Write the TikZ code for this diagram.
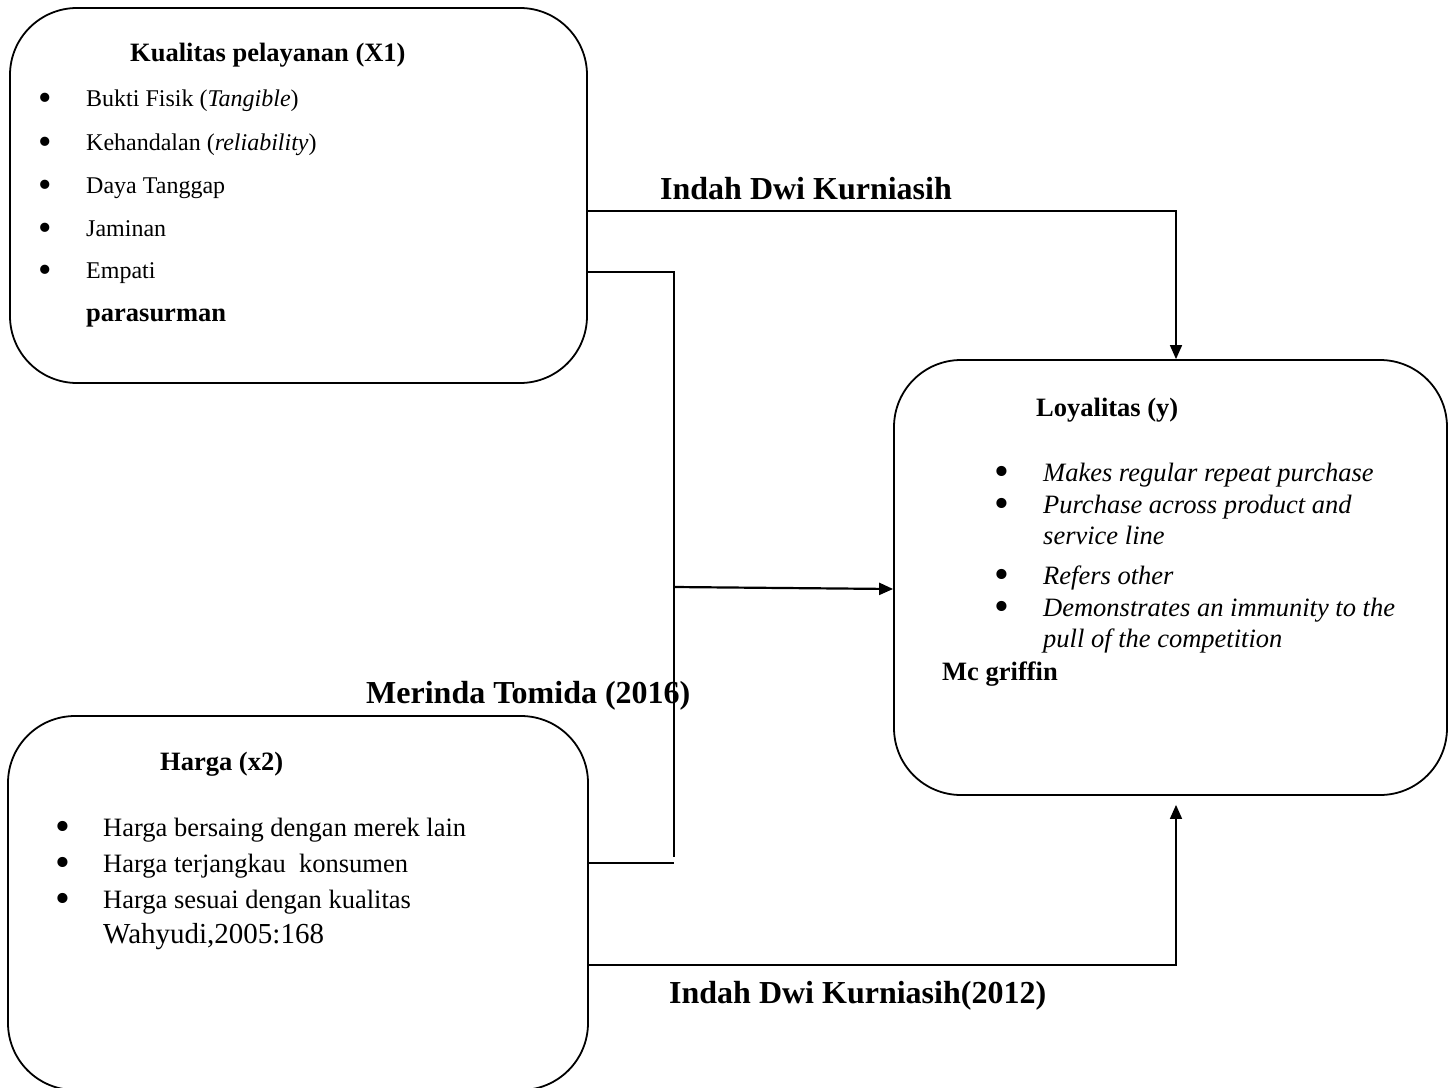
\documentclass[tikz,border=0pt]{standalone}
\usepackage{fontspec}
\setmainfont{Liberation Serif}
\usetikzlibrary{arrows.meta}
\newcommand{\bul}{\smash{\raisebox{-0.17em}{\scalebox{1.6}{\textbullet}}}}

\begin{document}
\begin{tikzpicture}[
                x = 1pt, y = -1pt,
                box/.style = {draw, line width = 1.8pt, rounded corners = 67pt, inner sep = 0pt},
                head/.style = {anchor = base west, inner sep = 0pt, font = \fontsize{26.5pt}{30pt}\selectfont\bfseries},
                item/.style = {anchor = base west, inner sep = 0pt, font = \fontsize{24pt}{28pt}\selectfont},
                itemb/.style = {anchor = base west, inner sep = 0pt, font = \fontsize{26.5pt}{30pt}\selectfont},
                lbl/.style = {anchor = base west, inner sep = 0pt, font = \fontsize{32pt}{36pt}\selectfont\bfseries},
                line/.style = {draw, line width = 1.6pt},
                arr/.style = {draw, line width = 1.6pt, -{Triangle[length = 14pt, width = 12pt]}},
            ]
            \useasboundingbox (0, 0) rectangle (1450, 1087);
            \clip (0, 0) rectangle (1450, 1087);

            \node (kual) at (298.5, 195.5) [box, minimum width = 577pt, minimum height = 375pt] {};
            \node (harga) at (298, 903) [box, minimum width = 580pt, minimum height = 374pt] {};
            \node (loy) at (1170.5, 577.5) [box, minimum width = 553pt, minimum height = 435pt] {};

            \node (kualT) at (130, 61) [head] {Kualitas pelayanan (X1)};
            \node (k1) at (38, 106) [item] {\makebox[48pt][l]{\bul}Bukti Fisik (\textit{Tangible})};
            \node (k2) at (38, 150) [item] {\makebox[48pt][l]{\bul}Kehandalan (\textit{reliability})};
            \node (k3) at (38, 193) [item] {\makebox[48pt][l]{\bul}Daya Tanggap};
            \node (k4) at (38, 236) [item] {\makebox[48pt][l]{\bul}Jaminan};
            \node (k5) at (38, 278) [item] {\makebox[48pt][l]{\bul}Empati};
            \node (kSrc) at (86, 321) [head] {parasurman};

            \node (loyT) at (1036, 416) [head] {Loyalitas (y)};
            \node (l1) at (994, 481) [itemb] {\makebox[49pt][l]{\bul}\textit{Makes regular repeat purchase}};
            \node (l2) at (994, 513) [itemb] {\makebox[49pt][l]{\bul}\textit{Purchase across product and}};
            \node (l2b) at (1043, 544) [itemb] {\textit{service line}};
            \node (l3) at (994, 584) [itemb] {\makebox[49pt][l]{\bul}\textit{Refers other}};
            \node (l4) at (994, 616) [itemb] {\makebox[49pt][l]{\bul}\textit{Demonstrates an immunity to the}};
            \node (l4b) at (1043, 647) [itemb] {\textit{pull of the competition}};
            \node (loySrc) at (942, 680) [head] {Mc griffin};

            \node (hargaT) at (160, 770) [head] {Harga (x2)};
            \node (h1) at (55, 836) [itemb] {\makebox[48pt][l]{\bul}Harga bersaing dengan merek lain};
            \node (h2) at (55, 872) [itemb] {\makebox[48pt][l]{\bul}Harga terjangkau\ \ konsumen};
            \node (h3) at (55, 908) [itemb] {\makebox[48pt][l]{\bul}Harga sesuai dengan kualitas};
            \node (hSrc) at (103, 943) [item, font = \fontsize{29pt}{33pt}\selectfont] {Wahyudi,2005:168};

            \node (lblA) at (660, 199) [lbl] {Indah Dwi Kurniasih};
            \node (lblB) at (366, 703) [lbl] {Merinda Tomida (2016)};
            \node (lblC) at (669, 1003) [lbl] {Indah Dwi Kurniasih(2012)};

            \coordinate (jTop) at (674, 272);
            \coordinate (jMid) at (674, 587);
            \coordinate (jBot) at (674, 857);

            \path[arr] (kual.east |- 0, 211) -| ([xshift = 5.5pt]loy.north);
            \path[line] (kual.east |- jTop) -- (jTop) -- (jBot);
            \path[line] (harga.east |- 0, 863) -- (jBot |- 0, 863);
            \path[arr, line width = 2.2pt] (jMid) -- (loy.west |- 0, 589);
            \path[arr] (harga.east |- 0, 965) -| ([xshift = 5.5pt, yshift = -9pt]loy.south);
        \end{tikzpicture}
\end{document}
